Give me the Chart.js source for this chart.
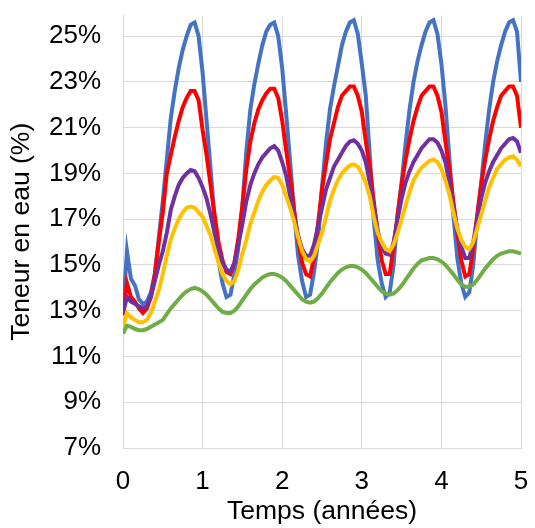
<!DOCTYPE html>
<html>
<head>
<meta charset="utf-8">
<script src="https://cdn.jsdelivr.net/npm/chart.js@4.4.1/dist/chart.umd.min.js"></script>
<style>
  html, body { margin: 0; padding: 0; background: #fff; }
  #cadre { width: 535px; height: 528px; }
</style>
</head>
<body>
<div id="cadre"><canvas id="grafico"></canvas></div>
<script>
// Temps (années)
var temps = [0,0.05,0.1,0.15,0.2,0.25,0.3,0.35,0.4,0.45,0.5,0.55,0.6,0.65,0.7,0.75,0.8,0.85,0.9,0.95,
  1,1.05,1.1,1.15,1.2,1.25,1.3,1.35,1.4,1.45,1.5,1.55,1.6,1.65,1.7,1.75,1.8,1.85,1.9,1.95,
  2,2.05,2.1,2.15,2.2,2.25,2.3,2.35,2.4,2.45,2.5,2.55,2.6,2.65,2.7,2.75,2.8,2.85,2.9,2.95,
  3,3.05,3.1,3.15,3.2,3.25,3.3,3.35,3.4,3.45,3.5,3.55,3.6,3.65,3.7,3.75,3.8,3.85,3.9,3.95,
  4,4.05,4.1,4.15,4.2,4.25,4.3,4.35,4.4,4.45,4.5,4.55,4.6,4.65,4.7,4.75,4.8,4.85,4.9,4.95,5];

// Teneur en eau (%) par série
var serieBleue = [13.0,15.6,14.4,14.1,13.5,13.3,13.4,13.8,14.6,16.2,17.8,19.6,21.4,22.6,23.6,24.4,25.0,25.5,25.6,25.0,
  23.4,21.3,19.2,17.0,15.2,14.2,13.6,13.7,14.6,15.8,17.6,20.0,21.8,22.9,23.8,24.6,25.2,25.5,25.6,25.0,
  23.6,21.6,19.5,17.3,15.4,14.3,13.6,13.7,14.7,16.0,18.4,20.3,21.8,22.8,23.7,24.6,25.2,25.6,25.7,25.1,
  23.8,22.4,19.8,17.0,15.2,14.2,13.6,13.8,15.0,17.2,18.6,20.3,21.8,23.0,23.9,24.6,25.2,25.6,25.7,25.1,
  23.8,22.0,19.7,17.2,15.3,14.2,13.6,13.8,15.0,17.0,18.6,20.3,21.8,23.0,23.9,24.6,25.2,25.6,25.7,25.2,23.0];
var serieRouge = [12.8,14.2,13.6,13.4,13.1,12.9,13.1,13.6,14.6,16.0,17.3,19.0,19.8,20.6,21.3,21.9,22.3,22.6,22.6,22.2,
  20.9,19.8,18.5,17.2,16.0,15.2,14.7,14.6,15.1,16.2,17.6,19.2,20.4,21.2,21.8,22.2,22.5,22.7,22.7,22.3,
  21.3,20.0,18.8,17.4,16.1,15.1,14.6,14.5,15.3,16.8,18.3,19.4,20.5,21.2,21.9,22.4,22.6,22.8,22.8,22.4,
  21.7,20.4,19.3,17.8,16.4,15.2,14.6,14.6,15.8,17.2,18.5,19.6,20.5,21.3,21.9,22.4,22.6,22.8,22.8,22.4,
  21.7,20.4,19.2,17.8,16.4,15.2,14.5,14.6,15.7,17.2,18.5,19.6,20.5,21.3,21.9,22.4,22.6,22.8,22.8,22.4,21.0];
var serieViolette = [12.9,13.6,13.4,13.3,13.2,13.1,13.2,13.6,14.3,15.0,15.6,16.4,17.4,18.0,18.5,18.8,19.0,19.15,19.1,18.8,
  18.4,17.9,17.2,16.4,15.7,15.1,14.8,14.7,15.1,15.9,16.8,17.8,18.5,19.0,19.4,19.7,19.9,20.1,20.2,20.0,
  19.5,18.9,18.0,17.1,16.3,15.7,15.4,15.4,15.9,16.7,17.5,18.3,18.8,19.3,19.6,19.9,20.2,20.4,20.45,20.3,
  20.0,19.5,18.6,17.6,16.5,15.8,15.5,15.45,16.0,17.0,17.9,18.6,19.1,19.5,19.8,20.1,20.3,20.5,20.5,20.35,
  20.0,19.5,18.6,17.6,16.6,15.8,15.3,15.3,16.0,17.0,17.9,18.6,19.1,19.5,19.8,20.1,20.3,20.5,20.55,20.4,19.9];
var serieJaune = [12.3,12.9,12.7,12.6,12.5,12.5,12.6,12.9,13.4,13.9,14.6,15.4,16.1,16.6,17.0,17.3,17.5,17.55,17.5,17.3,
  17.1,16.7,16.3,15.7,15.1,14.6,14.3,14.15,14.3,14.8,15.5,16.1,16.8,17.3,17.8,18.2,18.5,18.7,18.85,18.8,
  18.5,18.0,17.5,16.9,16.2,15.6,15.25,15.15,15.4,15.9,16.4,17.1,17.8,18.3,18.7,19.0,19.2,19.35,19.4,19.3,
  19.0,18.6,18.0,17.1,16.4,16.0,15.7,15.6,15.9,16.4,17.0,17.6,18.2,18.7,19.0,19.25,19.4,19.55,19.6,19.5,
  19.2,18.7,18.1,17.3,16.6,16.1,15.8,15.7,16.0,16.6,17.2,17.8,18.4,18.8,19.2,19.4,19.6,19.7,19.75,19.6,19.3];
var serieVerte = [12.0,12.35,12.3,12.2,12.15,12.15,12.2,12.3,12.4,12.5,12.6,12.85,13.1,13.3,13.5,13.7,13.85,13.95,14.0,13.95,
  13.85,13.7,13.5,13.3,13.1,12.95,12.9,12.9,13.0,13.2,13.45,13.7,13.95,14.15,14.3,14.45,14.55,14.6,14.6,14.55,
  14.45,14.3,14.1,13.9,13.7,13.5,13.4,13.35,13.4,13.55,13.75,14.0,14.25,14.45,14.65,14.8,14.9,14.95,14.95,14.9,
  14.8,14.65,14.45,14.25,14.05,13.85,13.75,13.7,13.75,13.9,14.1,14.35,14.6,14.85,15.05,15.2,15.25,15.3,15.3,15.25,
  15.15,15.0,14.8,14.6,14.35,14.15,14.05,14.05,14.15,14.35,14.6,14.85,15.05,15.25,15.4,15.5,15.55,15.6,15.6,15.55,15.5];

var ticksY = [7,9,11,13,15,17,19,21,23,25];
var ticksX = [0,1,2,3,4,5];

function aPoints(valeurs) {
  var pts = [];
  for (var i = 0; i < temps.length; i++) {
    pts.push({x: temps[i], y: valeurs[i]});
  }
  return pts;
}

function serie(valeurs, couleur) {
  return {
    data: aPoints(valeurs),
    borderColor: couleur,
    backgroundColor: couleur,
    borderWidth: 4,
    pointRadius: 0,
    tension: 0,
    fill: false
  };
}

var police = "'Liberation Sans', Arial, sans-serif";
var ctx = document.getElementById("grafico").getContext("2d");
var grafico = new Chart(ctx, {
  type: "line",
  data: {
    // le premier jeu est dessiné au-dessus
    datasets: [
      serie(serieVerte, "#70AD47"),
      serie(serieJaune, "#FFC000"),
      serie(serieViolette, "#7030A0"),
      serie(serieRouge, "#FF0000"),
      serie(serieBleue, "#4472C4")
    ]
  },
  options: {
    responsive: true,
    maintainAspectRatio: false,
    animation: false,
    layout: { padding: { top: 12, right: 14, left: 0, bottom: 0 } },
    plugins: {
      legend: { display: false },
      tooltip: { enabled: false }
    },
    scales: {
      x: {
        type: "linear",
        min: 0,
        max: 5,
        afterBuildTicks: function (s) { s.ticks = ticksX.map(function (v) { return {value: v}; }); },
        afterFit: function (s) { s.height = 80; },
        // l'écart des étiquettes passe par tickLength (marques invisibles)
        grid: { color: "#d9d9d9", lineWidth: 1, drawTicks: true, tickLength: 18, tickColor: "rgba(0,0,0,0)" },
        border: { color: "#d9d9d9" },
        ticks: { padding: 0, color: "#000", font: { family: police, size: 26 } },
        title: {
          display: true,
          text: "Temps (années)",
          color: "#000",
          padding: { top: 0, bottom: 0 },
          font: { family: police, size: 26.5 }
        }
      },
      y: {
        min: 7,
        max: 25.9,
        afterBuildTicks: function (s) { s.ticks = ticksY.map(function (v) { return {value: v}; }); },
        afterFit: function (s) { s.width = 123; },
        grid: { color: "#d9d9d9", lineWidth: 1, drawTicks: true, tickLength: 22, tickColor: "rgba(0,0,0,0)" },
        border: { color: "#d9d9d9" },
        ticks: {
          padding: 0,
          color: "#000",
          font: { family: police, size: 26 },
          callback: function (v) { return v + "%"; }
        },
        title: {
          display: true,
          text: "Teneur en eau (%)",
          color: "#000",
          padding: { top: 6, bottom: 0 },
          font: { family: police, size: 26.5 }
        }
      }
    }
  }
});
</script>
</body>
</html>
